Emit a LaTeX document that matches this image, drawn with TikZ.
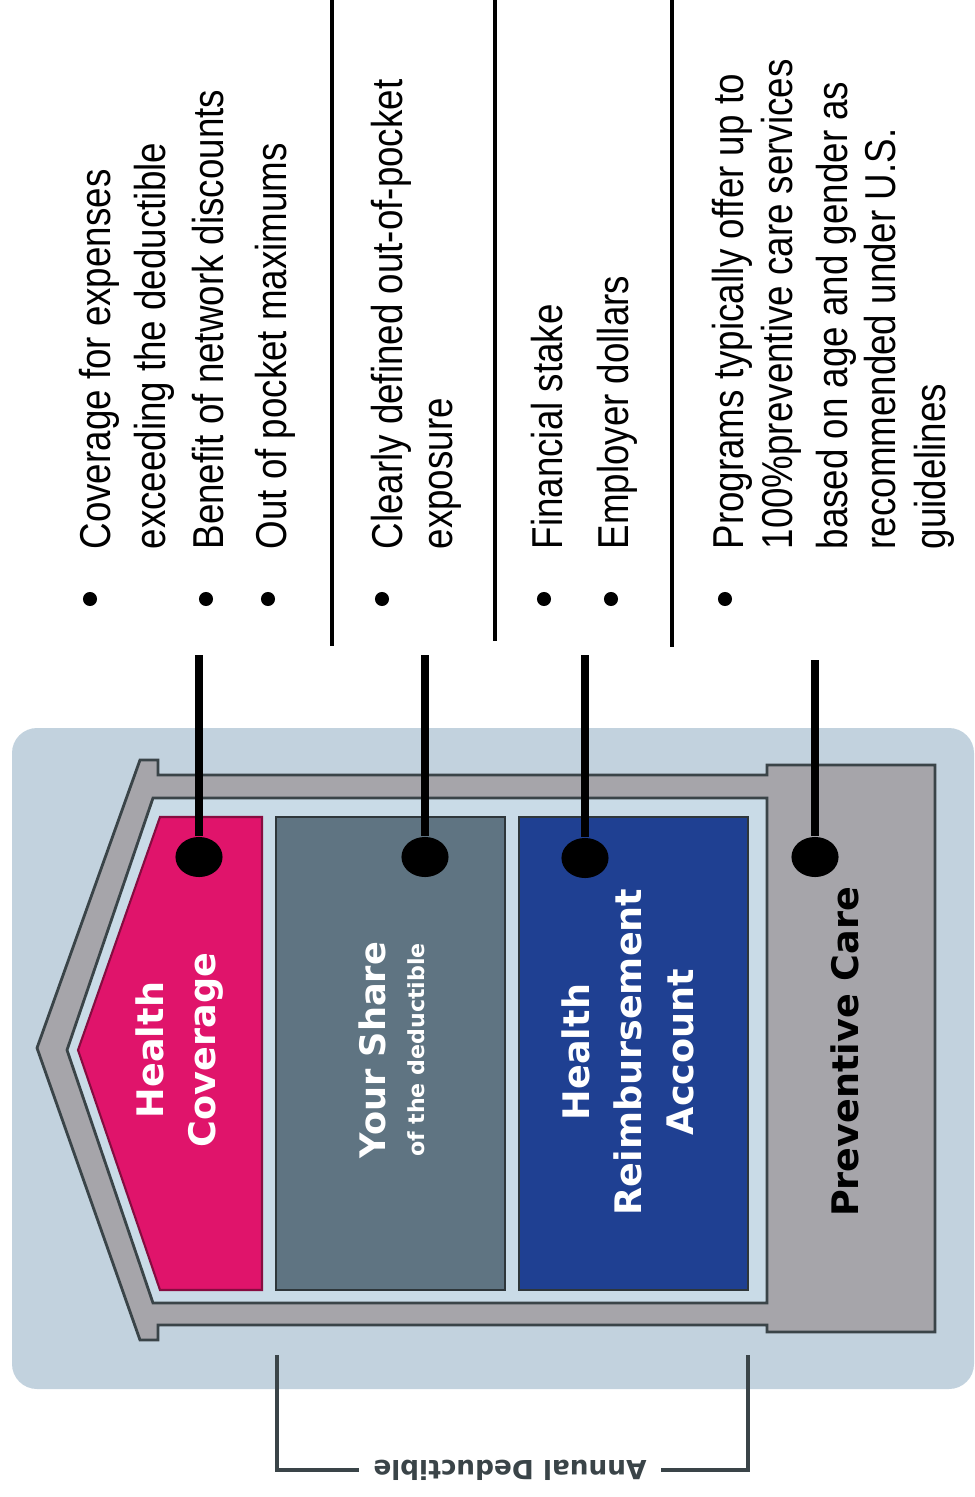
\documentclass[tikz,border=0pt]{standalone}
\usepackage{fontspec}
\setmainfont{Liberation Sans}
\newfontfamily\boxfont{DejaVu Sans}
\usetikzlibrary{shapes.geometric}
\definecolor{panel}{HTML}{C2D2DE}
\definecolor{inner}{HTML}{C9DBE7}
\definecolor{rail}{HTML}{A6A5AA}
\definecolor{edge}{HTML}{3A4448}
\definecolor{hcpink}{HTML}{E0146B}
\definecolor{share}{HTML}{5F7482}
\definecolor{hra}{HTML}{1F4092}
\def\leader{\draw[line width=2pt]}
\def\sep{\draw[line width=1.1pt]}
\begin{document}
\begin{tikzpicture}[x=0.1mm,y=-0.1mm,
    txt/.style={rotate=90,anchor=base west,xscale=0.85,inner sep=0pt,font=\fontsize{12.3}{14}\selectfont},
    lbl/.style={rotate=90,align=center,text=white,font=\boxfont\bfseries\fontsize{10.4}{14.8}\selectfont},
    dot/.style={ellipse,fill=black,minimum width=13.4pt,minimum height=11.4pt,inner sep=0pt},
    boxedge/.style={draw=edge!80!black,line width=0.6pt}]
\useasboundingbox (0,0) rectangle (974,1497);
% panel and frame
\fill[panel,rounded corners=2.5mm] (12,728) rectangle (974,1389);
\filldraw[fill=rail,draw=edge,line width=0.8pt] (140,760) -- (158,760) -- (158,775) -- (767,775) -- (767,765) -- (935,765) -- (935,1332) -- (767,1332) -- (767,1325) -- (158,1325) -- (158,1340) -- (140,1340) -- (37,1048) -- cycle;
\filldraw[fill=inner,draw=edge,line width=0.8pt] (153,798) -- (767,798) -- (767,1303) -- (153,1303) -- (67,1050) -- cycle;
% boxes
\filldraw[fill=hcpink,draw=hcpink!60!black,line width=0.6pt] (160,817) -- (262,817) -- (262,1290) -- (160,1290) -- (78,1050) -- cycle;
\filldraw[fill=share,boxedge] (276,817) rectangle (505,1290);
\filldraw[fill=hra,boxedge] (519,817) rectangle (748,1290);
\node[lbl] (hc) at (180,1050) {Health\\Coverage};
\node[lbl,font=\boxfont\bfseries\fontsize{10}{12}\selectfont] (ys) at (372,1050) {Your Share};
\node[lbl,font=\boxfont\bfseries\fontsize{6.3}{8}\selectfont] (yd) at (416,1050) {of the deductible};
\node[lbl] (ra) at (628,1052) {Health\\Reimbursement\\Account};
\node[lbl,text=black] (pc) at (845,1052) {Preventive Care};
% leaders
\coordinate (t1) at (199,655); \node[dot] (d1) at (199,857) {};
\coordinate (t2) at (425,655); \node[dot] (d2) at (425,857) {};
\coordinate (t3) at (585,655); \node[dot] (d3) at (585,858) {};
\coordinate (t4) at (815,660); \node[dot] (d4) at (815,857) {};
\leader (t1) -- (d1);
\leader (t2) -- (d2);
\leader (t3) -- (d3);
\leader (t4) -- (d4);
% bullet texts
\sep (332,0) -- (332,646);
\sep (495,0) -- (495,641);
\sep (672,0) -- (672,647);
\foreach \x in {90,206,268,382,544,611,725} \fill (\x,599) circle (2pt);
\node[txt] (c1a) at (110,550) {Coverage for expenses};
\node[txt] (c1b) at (165,550) {exceeding the deductible};
\node[txt] (c2) at (223,550) {Benefit of network discounts};
\node[txt] (c3) at (286,550) {Out of pocket maximums};
\node[txt] (s1a) at (402,550) {Clearly defined out-of-pocket};
\node[txt] (s1b) at (452,550) {exposure};
\node[txt] (r1) at (562,550) {Financial stake};
\node[txt] (r2) at (628,550) {Employer dollars};
\node[txt] (p1a) at (743,550) {Programs typically offer up to};
\node[txt] (p1b) at (792,550) {100\%preventive care services};
\node[txt] (p1c) at (847,550) {based on age and gender as};
\node[txt] (p1d) at (895,550) {recommended under U.S.};
\node[txt] (p1e) at (945,550) {guidelines};
% bracket
\node[font=\boxfont\bfseries\fontsize{7.5}{9}\selectfont,text=edge,rotate=180,inner sep=4pt] (ad) at (510,1470) {Annual Deductible};
\coordinate (bl) at (277,1355); \coordinate (br) at (748,1355);
\draw[edge,line width=0.9pt] (bl) |- (ad);
\draw[edge,line width=0.9pt] (br) |- (ad);
\end{tikzpicture}
\end{document}
